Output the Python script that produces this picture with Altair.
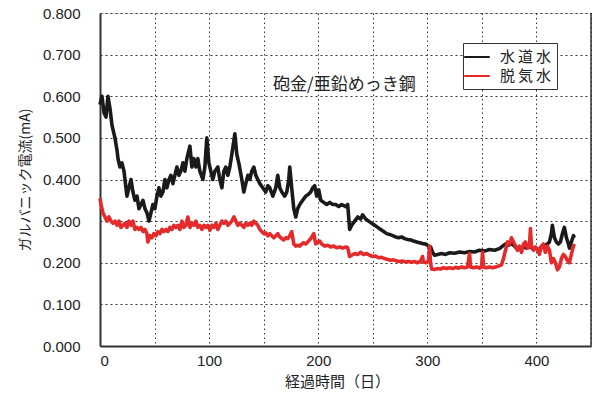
import altair as alt
import pandas as pd

# Galvanic current (mA) vs. elapsed days for two water conditions
tap_days = [0, 1.8, 3.7, 5.5, 7.3, 9.2, 11, 13.7, 15.6, 16.5, 18.3, 20.1, 22, 22.9, 24.7, 26.5,
            28.4, 30.2, 32, 33.9, 35.7, 37.5, 39.4, 41.2, 43, 44.9, 46.7, 48.5, 50.3, 52.2, 54,
            55.8, 57.7, 59.5, 61.3, 63.2, 65, 66.8, 68.6, 70.5, 72.3, 74.1, 76, 77.8, 79.6, 82.4,
            84.2, 86, 87.9, 89.7, 91.5, 94.3, 96.1, 97.9, 99.8, 101.6, 103.4, 105.3, 108, 109.8,
            111.7, 113.5, 115.3, 117.2, 119, 120.8, 123.6, 125.4, 127.2, 130, 131.8, 133.6, 135.5,
            137.3, 139.1, 141, 142.8, 144.6, 146.5, 149.2, 151.9, 153.8, 155.6, 158.4, 161.1,
            162.9, 164.8, 166.6, 169.3, 171.2, 173, 173.9, 175.7, 177.6, 179.4, 181.2, 183.1,
            185.8, 188.6, 191.3, 193.1, 195, 196.8, 198.6, 200.5, 202.3, 205, 207.8, 210.5, 213.3,
            216, 218.8, 221.5, 225.2, 227, 228.8, 230.7, 233.4, 236.2, 238.9, 240.7, 243.5, 246.2,
            249, 251.7, 254.5, 257.2, 260, 262.7, 265.4, 268.2, 270.9, 273.7, 276.4, 279.2, 281.9,
            284.7, 287.4, 290.2, 292.9, 295.6, 298.4, 301.1, 303, 304.8, 306.6, 309.4, 313, 316.7,
            320.4, 325, 329.5, 334.1, 338.7, 343.2, 347.8, 352.4, 357, 361.6, 366.1, 368.9, 371.6,
            374.4, 377.1, 379.9, 382.6, 385.4, 388.1, 390.8, 393.6, 396.3, 399.1, 401.8, 404.6,
            407.3, 410.1, 411.9, 413.7, 414.6, 416.5, 418.3, 420.1, 422, 423.8, 425.6, 427.5,
            429.3, 430.2, 432, 433.9, 434.8]
tap_ma = [0.58, 0.60, 0.56, 0.55, 0.60, 0.57, 0.53, 0.50, 0.47, 0.45, 0.43, 0.44, 0.42, 0.40, 0.36,
          0.38, 0.40, 0.37, 0.35, 0.36, 0.33, 0.34, 0.35, 0.33, 0.32, 0.30, 0.32, 0.34, 0.33, 0.36,
          0.38, 0.36, 0.37, 0.40, 0.38, 0.40, 0.41, 0.39, 0.41, 0.43, 0.41, 0.42, 0.44, 0.42, 0.45,
          0.48, 0.43, 0.45, 0.43, 0.45, 0.42, 0.40, 0.43, 0.50, 0.44, 0.42, 0.40, 0.42, 0.43, 0.40,
          0.38, 0.42, 0.43, 0.41, 0.43, 0.46, 0.51, 0.46, 0.44, 0.40, 0.37, 0.39, 0.41, 0.40, 0.42,
          0.43, 0.41, 0.40, 0.39, 0.38, 0.37, 0.385, 0.38, 0.36, 0.38, 0.41, 0.38, 0.37, 0.36, 0.37,
          0.40, 0.43, 0.38, 0.33, 0.31, 0.33, 0.34, 0.35, 0.36, 0.365, 0.37, 0.38, 0.385, 0.36,
          0.375, 0.35, 0.345, 0.34, 0.345, 0.34, 0.34, 0.335, 0.34, 0.335, 0.34, 0.28, 0.29, 0.30,
          0.31, 0.305, 0.315, 0.305, 0.30, 0.295, 0.29, 0.285, 0.28, 0.275, 0.27, 0.268, 0.265,
          0.262, 0.26, 0.262, 0.258, 0.256, 0.255, 0.252, 0.25, 0.248, 0.246, 0.245, 0.24, 0.238,
          0.225, 0.218, 0.22, 0.222, 0.22, 0.224, 0.223, 0.226, 0.224, 0.227, 0.226, 0.23, 0.228,
          0.232, 0.23, 0.234, 0.24, 0.245, 0.242, 0.246, 0.24, 0.232, 0.236, 0.238, 0.235, 0.24,
          0.234, 0.236, 0.23, 0.238, 0.24, 0.245, 0.25, 0.27, 0.29, 0.26, 0.25, 0.245, 0.25, 0.27,
          0.285, 0.26, 0.245, 0.235, 0.25, 0.265, 0.26]

deaer_days = [0, 0.9, 2.7, 4.6, 6.4, 8.2, 10.1, 11.9, 13.7, 15.6, 17.4, 19.2, 21.1, 22.9, 24.7, 26.5,
              28.4, 30.2, 32, 33.9, 35.7, 37.5, 39.4, 41.2, 43, 43.9, 45.8, 47.6, 49.4, 51.3, 53.1,
              54.9, 56.8, 58.6, 60.4, 62.2, 64.1, 65.9, 67.7, 69.6, 71.4, 73.2, 75.1, 76.9, 78.7,
              80.5, 82.4, 84.2, 86, 87.9, 89.7, 91.5, 93.4, 95.2, 97, 98.9, 100.7, 102.5, 104.3,
              106.2, 108, 109.8, 111.7, 113.5, 115.3, 117.2, 119, 120.8, 122.7, 124.5, 126.3, 128.1,
              130, 131.8, 133.6, 135.5, 137.3, 139.1, 141, 142.8, 144.6, 146.5, 148.3, 150.1, 151.9,
              153.8, 155.6, 157.4, 159.3, 161.1, 162.9, 164.8, 166.6, 168.4, 170.3, 172.1, 173.9,
              175.7, 177.6, 179.4, 181.2, 183.1, 184.9, 186.7, 188.6, 190.4, 192.2, 194.1, 195.9,
              197.7, 199.5, 201.4, 203.2, 205.9, 208.7, 211.4, 214.2, 216.9, 219.7, 222.4, 225.2,
              227, 228.8, 230.7, 233.4, 236.2, 238.9, 241.6, 244.4, 247.1, 249.9, 252.6, 255.4,
              258.1, 260.9, 263.6, 266.4, 269.1, 271.9, 274.6, 277.3, 280.1, 282.8, 285.6, 288.3,
              291.1, 293.8, 295.6, 296.5, 299.2, 301.1, 302, 302.9, 303.9, 306.6, 309.4, 312.1,
              314.9, 317.6, 320.4, 323.1, 325.9, 328.6, 331.4, 334.1, 336.8, 338.7, 339.6, 342.3,
              345.1, 347.8, 349.7, 350.6, 351.5, 354.2, 357, 359.7, 362.5, 365.2, 368, 369.8, 371.6,
              373.5, 375.3, 377.1, 379, 380.8, 382.6, 384.4, 386.3, 388.1, 389.9, 391.8, 393.6,
              394.5, 395.4, 397.3, 399.1, 400.9, 402.7, 404.6, 406.4, 408.2, 410.1, 411.9, 413.7,
              415.6, 417.4, 419.2, 421.1, 422.9, 424.7, 426.5, 428.4, 430.2, 432, 433.9, 434.8]
deaer_ma = [0.355, 0.34, 0.32, 0.31, 0.30, 0.31, 0.30, 0.295, 0.30, 0.29, 0.30, 0.285, 0.29, 0.295,
            0.285, 0.30, 0.29, 0.30, 0.28, 0.285, 0.28, 0.285, 0.275, 0.28, 0.27, 0.25, 0.265, 0.26,
            0.27, 0.265, 0.275, 0.27, 0.28, 0.275, 0.28, 0.275, 0.285, 0.28, 0.29, 0.285, 0.29, 0.28,
            0.30, 0.285, 0.29, 0.31, 0.285, 0.295, 0.29, 0.30, 0.285, 0.29, 0.28, 0.29, 0.285, 0.29,
            0.278, 0.29, 0.285, 0.295, 0.28, 0.29, 0.30, 0.295, 0.30, 0.29, 0.295, 0.30, 0.31, 0.30,
            0.29, 0.295, 0.29, 0.285, 0.295, 0.29, 0.295, 0.29, 0.30, 0.295, 0.29, 0.28, 0.275, 0.27,
            0.272, 0.265, 0.27, 0.265, 0.26, 0.265, 0.27, 0.262, 0.258, 0.255, 0.26, 0.258, 0.265,
            0.275, 0.245, 0.24, 0.242, 0.24, 0.245, 0.248, 0.245, 0.25, 0.255, 0.262, 0.27, 0.245,
            0.25, 0.252, 0.245, 0.24, 0.242, 0.238, 0.24, 0.236, 0.238, 0.235, 0.238, 0.236, 0.215,
            0.218, 0.222, 0.22, 0.225, 0.22, 0.222, 0.218, 0.215, 0.216, 0.212, 0.213, 0.21, 0.208,
            0.206, 0.207, 0.204, 0.203, 0.204, 0.202, 0.203, 0.201, 0.203, 0.2, 0.204, 0.215, 0.202,
            0.2, 0.205, 0.24, 0.2, 0.185, 0.184, 0.186, 0.185, 0.188, 0.186, 0.188, 0.186, 0.189,
            0.187, 0.19, 0.188, 0.19, 0.222, 0.19, 0.188, 0.19, 0.187, 0.19, 0.225, 0.19, 0.188, 0.19,
            0.188, 0.19, 0.192, 0.195, 0.21, 0.23, 0.25, 0.245, 0.26, 0.25, 0.24, 0.23, 0.24, 0.225,
            0.245, 0.25, 0.235, 0.24, 0.282, 0.24, 0.23, 0.238, 0.232, 0.22, 0.24, 0.245, 0.225, 0.24,
            0.23, 0.20, 0.21, 0.2, 0.183, 0.19, 0.21, 0.22, 0.215, 0.205, 0.2, 0.22, 0.24, 0.245]

series_names = ["水道水", "脱気水"]
series_colors = ["#1a1a1a", "#e42a2a"]

df = pd.concat([
    pd.DataFrame({"day": tap_days, "mA": tap_ma, "water": series_names[0], "k": 0}),
    pd.DataFrame({"day": deaer_days, "mA": deaer_ma, "water": series_names[1], "k": 1}),
])

LATIN = "Liberation Sans"
JP = "Noto Sans CJK JP"

x_scale = alt.Scale(domain=[0, 450], nice=False, zero=False)
y_scale = alt.Scale(domain=[0, 0.8], nice=False)

lines = alt.Chart(df).mark_line(strokeWidth=3.6, strokeJoin="round").encode(
    x=alt.X("day:Q", scale=x_scale,
            axis=alt.Axis(title="経過時間（日）", values=list(range(0, 451, 50)),
                          labelExpr="datum.value % 100 === 0 ? datum.label : ''",
                          labelFont=LATIN, labelFontSize=15, labelColor="#222",
                          labelPadding=7, ticks=False, domainColor="#333", domainWidth=2,
                          titleFont=JP, titleFontSize=15, titleFontWeight="normal",
                          titleColor="#222", titlePadding=6, titleX=237,
                          gridColor="#333", gridDash=[1.5, 3], gridWidth=1)),
    y=alt.Y("mA:Q", scale=y_scale,
            axis=alt.Axis(title="ガルバニック電流(mA)", values=[i / 10 for i in range(9)],
                          format=".3f", labelFont=LATIN, labelFontSize=15, labelColor="#222",
                          labelPadding=20, ticks=False, domainColor="#333", domainWidth=2,
                          titleFont=JP, titleFontSize=14, titleFontWeight="normal",
                          titleColor="#222", titlePadding=10,
                          gridColor="#333", gridDash=[2, 3], gridWidth=1)),
    color=alt.Color("water:N", scale=alt.Scale(domain=series_names, range=series_colors),
                    legend=alt.Legend(title=None, orient="none", legendX=363, legendY=30,
                                      symbolType="M-1.6,0H1.6", symbolSize=256,
                                      symbolStrokeWidth=2,
                                      labelExpr="join(split(datum.label, ''), '\u2009')",
                                      labelFont=JP, labelFontSize=15, labelColor="#222",
                                      labelOffset=14, rowPadding=2, padding=5,
                                      strokeColor="#333", fillColor="white")),
    order="k:Q",
    detail="water:N",
)

# right frame edge
frame = alt.Chart(pd.DataFrame({"x": [450]})).mark_rule(color="#333", strokeWidth=1.5).encode(
    x=alt.X("x:Q", scale=x_scale)
)

label = alt.Chart(pd.DataFrame({"day": [224], "mA": [0.626], "t": ["砲金/亜鉛めっき鋼"]})).mark_text(
    font=JP, fontSize=17, color="#222", align="center", baseline="middle"
).encode(x=alt.X("day:Q", scale=x_scale), y=alt.Y("mA:Q", scale=y_scale), text="t:N")

chart = alt.layer(lines, frame, label).properties(
    width=491, height=333,
    autosize=alt.AutoSizeParams(type="none"),
    padding={"left": 100, "top": 13, "right": 9, "bottom": 48},
).configure_view(stroke=None).configure(background="white")

chart.save("out.html", embed_options={"renderer": "svg", "actions": False})
